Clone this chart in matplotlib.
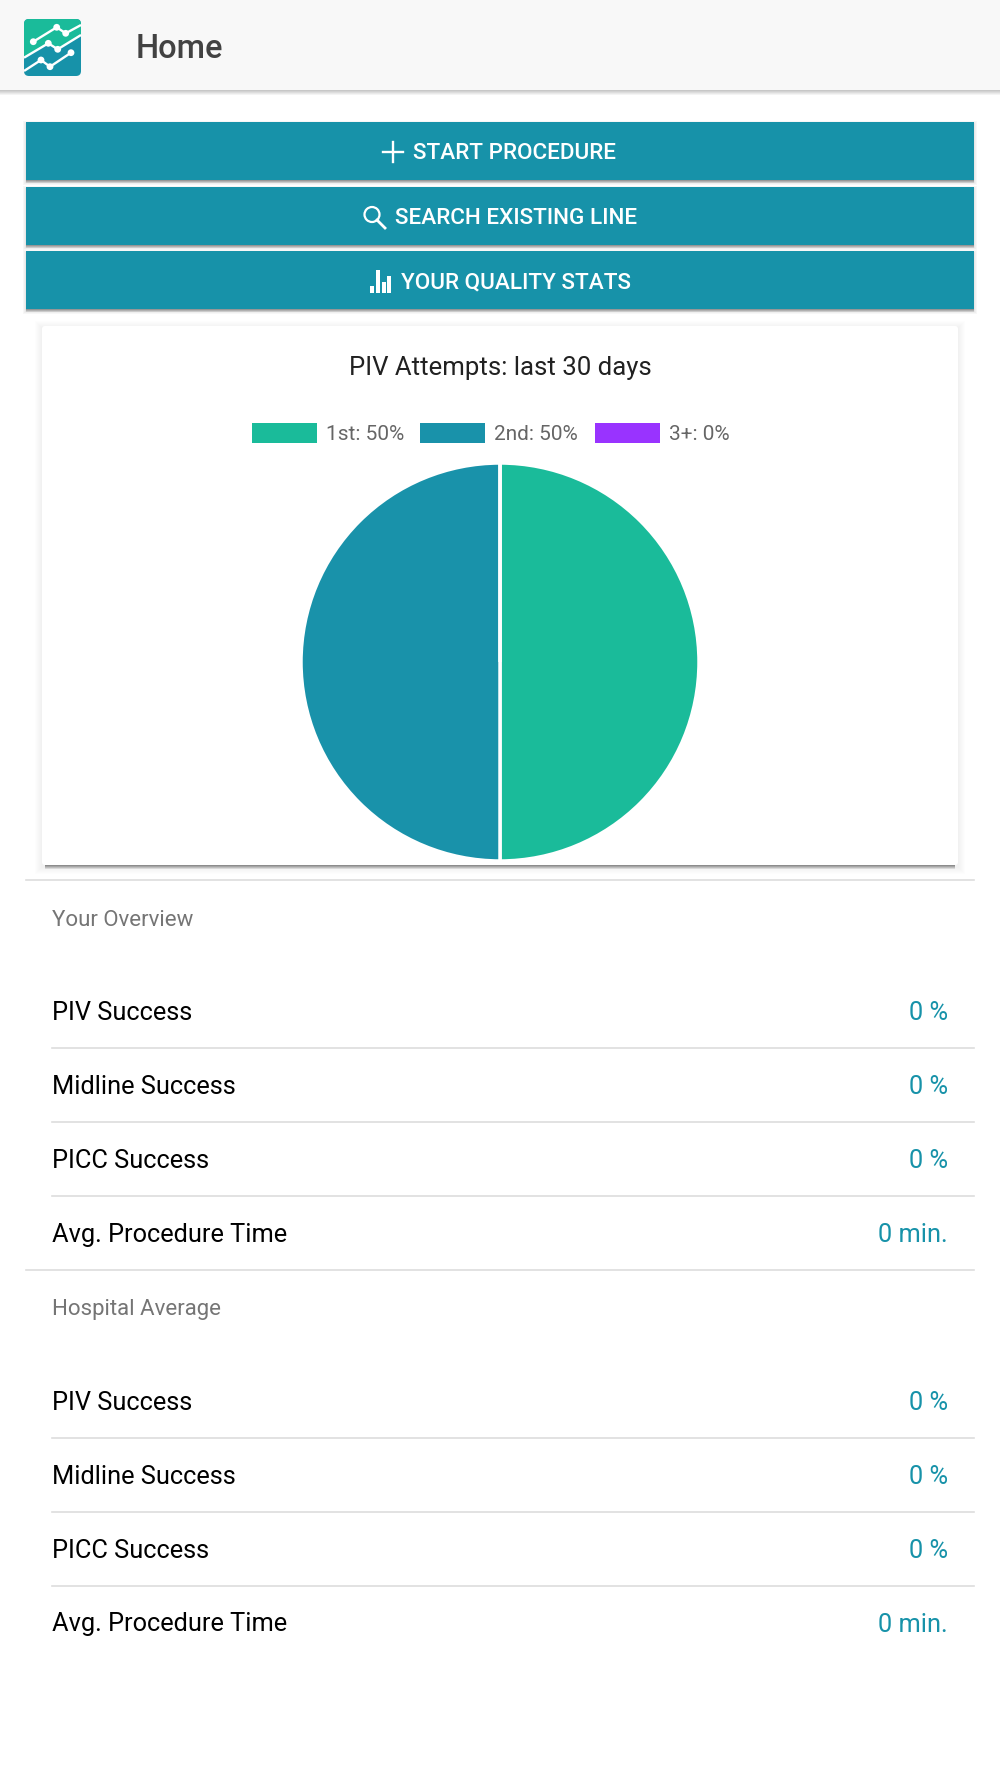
import matplotlib
matplotlib.use('Agg')
import matplotlib.pyplot as plt
from matplotlib.patches import Rectangle, FancyBboxPatch, Polygon, Circle

plt.rcParams['font.family'] = ['Roboto', 'DejaVu Sans']

TEAL = '#1792A9'
GREEN = '#1ABB9A'
PIE_TEAL = '#1992AA'
PURPLE = '#9933FF'

attempts = {'1st': 50, '2nd': 50, '3+': 0}
colors = [GREEN, PIE_TEAL, PURPLE]
legend_x = [252, 420, 594.5]

your_overview = [('PIV Success', '0 %'), ('Midline Success', '0 %'),
                 ('PICC Success', '0 %'), ('Avg. Procedure Time', '0 min.')]
hospital_avg = [('PIV Success', '0 %'), ('Midline Success', '0 %'),
                ('PICC Success', '0 %'), ('Avg. Procedure Time', '0 min.')]

W, H = 1000, 1778
fig = plt.figure(figsize=(W / 100, H / 100), dpi=100, facecolor='white')
ax = fig.add_axes([0, 0, 1, 1])
ax.set_xlim(0, W)
ax.set_ylim(H, 0)
ax.axis('off')


def shadow(x0, x1, y, depth=6, strength=0.16):
    for i in range(depth):
        a = strength * (1 - i / depth)
        ax.add_patch(Rectangle((x0, y + i), x1 - x0, 1, fc='black', ec='none', alpha=a, zorder=1))


def glow(x0, y0, x1, y1, dy=2, spread=6, a=0.012):
    for i in range(spread, 0, -1):
        ax.add_patch(Rectangle((x0 - i, y0 - i + dy), x1 - x0 + 2 * i, y1 - y0 + 2 * i,
                               fc='black', ec='none', alpha=a, zorder=1))


# header bar
ax.add_patch(Rectangle((0, 0), W, 90, fc='#F8F8F8', ec='none', zorder=2))
shadow(0, W, 90, depth=5, strength=0.22)
ax.text(136, 48.5, 'Home', fontsize=23.5, color='#424242', weight='medium', va='center', ha='left', zorder=5)

# logo
logo = FancyBboxPatch((27, 22), 51, 51, boxstyle='round,pad=3,rounding_size=5', fc=TEAL, ec='none', zorder=3)
ax.add_patch(logo)
top = Polygon([(24, 19), (81, 19), (81, 35), (57.7, 49.3), (48.3, 43.3), (24, 57.7)], fc=GREEN, ec='none', zorder=3)
ax.add_patch(top)
top.set_clip_path(logo)
logo_lines = [([33.3, 56.7, 65.7, 81], [41.7, 27.3, 33.3, 25]),
              ([24, 48.3, 57.7, 81], [57.7, 43.3, 49.3, 35]),
              ([24, 41, 50, 71], [71, 60, 66.7, 52.7])]
for xs, ys in logo_lines:
    ln, = ax.plot(xs, ys, color='white', lw=1.7, zorder=4, solid_capstyle='butt')
    ln.set_clip_path(logo)
    for x, y in zip(xs, ys):
        if 25 < x < 80:
            ax.add_patch(Circle((x, y), 3.4, fc='white', ec='none', zorder=4))

# buttons
buttons = [(122, 180, 'START PROCEDURE', 413), (187, 245, 'SEARCH EXISTING LINE', 395), (251, 309, 'YOUR QUALITY STATS', 401)]
for y0, y1, label, tx in buttons:
    glow(26, y0, 974, y1, dy=2, spread=3, a=0.03)
    shadow(26, 974, y1, depth=3, strength=0.35)
    ax.add_patch(Rectangle((26, y0), 948, y1 - y0, fc=TEAL, ec='none', zorder=2))
    ax.text(tx, (y0 + y1) / 2 + 2.5, label, fontsize=16.2, color='white', weight='medium', va='center', ha='left', zorder=5)

# button icons
ax.plot([383, 403], [152, 152], color='white', lw=1.7, zorder=5)
ax.plot([393, 393], [142, 162], color='white', lw=1.7, zorder=5)
ax.add_patch(Circle((372, 214.5), 7.5, fc='none', ec='white', lw=1.6, zorder=5))
ax.plot([377, 385], [220, 228], color='white', lw=2.0, zorder=5)
for x, top_y in zip([369.5, 375.5, 381.5, 387], [286, 269.5, 282, 276]):
    ax.add_patch(Rectangle((x, top_y), 4, 293 - top_y, fc='white', ec='none', zorder=5))

# chart card
glow(42, 326, 958, 865, dy=2, spread=7, a=0.007)
shadow(45, 955, 865, depth=4, strength=0.42)
ax.add_patch(FancyBboxPatch((42, 326), 916, 539, boxstyle='round,pad=0,rounding_size=3', fc='white', ec='none', zorder=2))
ax.text(500, 368.5, 'PIV Attempts: last 30 days', fontsize=18.5, color='#212121', va='center', ha='center', zorder=5)

for x, c, (name, val) in zip(legend_x, colors, attempts.items()):
    ax.add_patch(Rectangle((x, 423), 65, 20, fc=c, ec='none', zorder=5))
    ax.text(x + 74.5, 435, f'{name}: {val}%', fontsize=15, color='#666666', va='center', ha='left', zorder=5)

# pie
cx, cy, r = 500, 662, 199
pie_ax = fig.add_axes([(cx - r) / W, 1 - (cy + r) / H, 2 * r / W, 2 * r / H])
pie_ax.pie(list(attempts.values()), colors=colors, startangle=90, counterclock=False, radius=1,
           wedgeprops={'edgecolor': 'white', 'linewidth': 2.5})
pie_ax.set_xlim(-1, 1)
pie_ax.set_ylim(-1, 1)
pie_ax.patch.set_alpha(0)


def section(title, title_y, rows, ys, lines_y, top_line):
    if top_line is not None:
        ax.plot([26, 974], [top_line, top_line], color='#DDDDDD', lw=1.2, zorder=3)
    ax.text(52, title_y + 2, title, fontsize=16, color='#757575', va='center', ha='left', zorder=5)
    for (name, val), y in zip(rows, ys):
        ax.text(52, y + 2, name, fontsize=18.3, color='black', va='center', ha='left', zorder=5)
        ax.text(948, y + 2, val, fontsize=18.3, color=TEAL, va='center', ha='right', zorder=5)
    for y in lines_y:
        ax.plot([52, 974], [y, y], color='#DDDDDD', lw=1.2, zorder=3)


section('Your Overview', 918, your_overview, [1011, 1085, 1159, 1233], [1047.5, 1122, 1196], 880)
section('Hospital Average', 1307.5, hospital_avg, [1400.5, 1474.5, 1548.5, 1622.5], [1437.5, 1511.5, 1585.5], 1270)

fig.savefig('out.png', dpi=100)
